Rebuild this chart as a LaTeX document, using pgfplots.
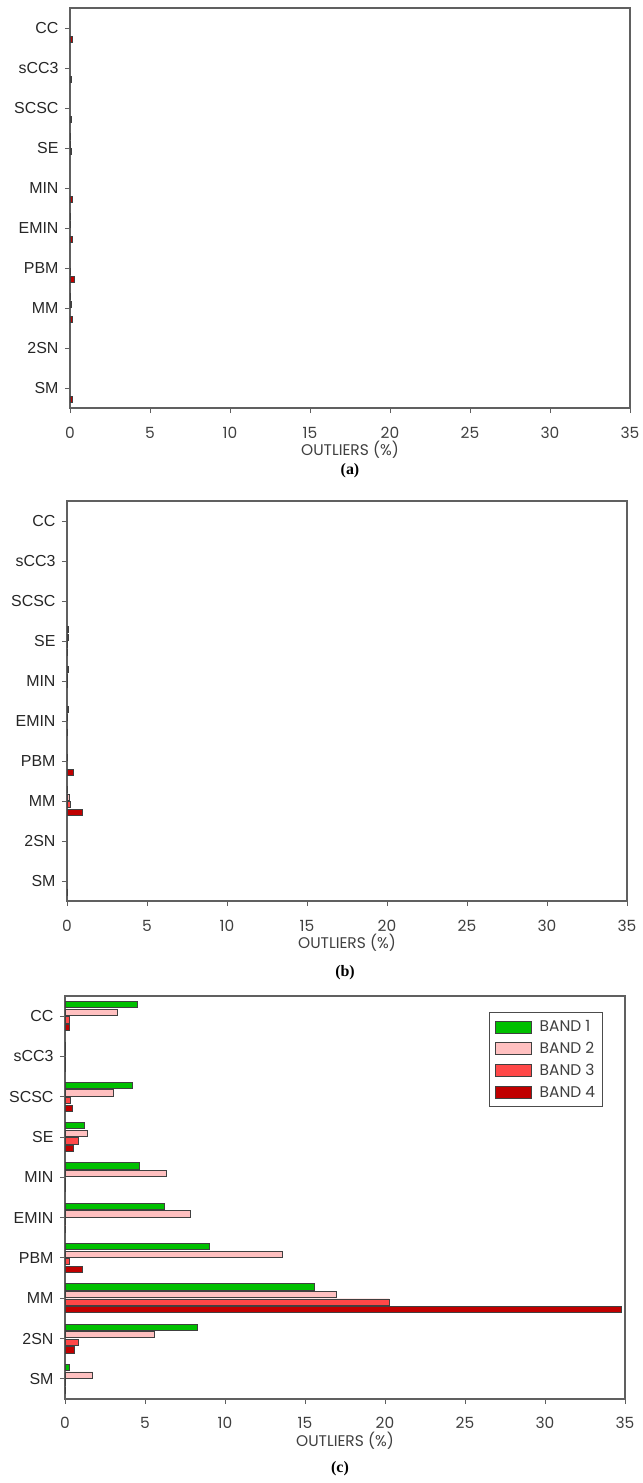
\documentclass[border=0pt]{standalone}
\usepackage{pgfplots}
\pgfplotsset{compat=1.18}
\usepackage{fontspec}
\setmainfont{Liberation Sans}
\newfontfamily\gothic{Poppins}
\newfontfamily\serifb{Liberation Serif}
\definecolor{bandA}{HTML}{00C000}
\definecolor{bandB}{HTML}{FFC0C0}
\definecolor{bandC}{HTML}{FF4848}
\definecolor{bandD}{HTML}{C00000}
\definecolor{axgray}{HTML}{606060}
\pgfplotsset{
  panel/.style={
    scale only axis, width=560bp, height=400bp,
    xmin=0, xmax=35, ymin=-0.5, ymax=9.5,
    xtick={0,5,...,35},
    ytick={0,...,9},
    yticklabels={SM,2SN,MM,PBM,EMIN,MIN,SE,SCSC,sCC3,CC},
    tick align=outside, xtick pos=bottom, ytick pos=left,
    major tick length=5bp,
    axis line style={draw=axgray, line width=1.2pt},
    every tick/.style={draw=axgray, line width=1pt},
    /pgf/number format/assume math mode=true,
    xticklabel style={font=\gothic\fontsize{15.5}{15.5}\selectfont, text=black!75, anchor=center, yshift=-20bp},
    yticklabel style={font=\fontsize{16}{16}\selectfont, text=black!85, anchor=east, xshift=-3bp},
    xlabel={OUTLIERS (\%)},
    xlabel style={font=\gothic\fontsize{15.5}{15.5}\selectfont, text=black!75, at={(axis description cs:0.5,0)}, anchor=center, yshift=-42bp},
    xbar, bar width=6.2bp,
    legend image code/.code={\draw[##1] (0bp,-6bp) rectangle (36bp,6bp);},
  },
  b1/.style={fill=bandA, draw=black!75, line width=0.9pt, bar shift=11.4bp},
  b2/.style={fill=bandB, draw=black!75, line width=0.9pt, bar shift=3.8bp},
  b3/.style={fill=bandC, draw=black!75, line width=0.9pt, bar shift=-3.8bp},
  b4/.style={fill=bandD, draw=black!75, line width=0.9pt, bar shift=-11.4bp},
}
\begin{document}
\begin{tikzpicture}
\path (0,0) rectangle (640bp,-1483bp);
% ---------------- (a)
\begin{axis}[panel, at={(70bp,-8bp)}, anchor=north west]
\addplot[b1] coordinates {(0.05,6) (0.05,4) (0.05,2)};
\addplot[b2] coordinates {(0.05,6) (0.05,4) (0.1,2)};
\addplot[b3] coordinates {(0.1,6) (0.05,3)};
\addplot[b4] coordinates {(0.15,9) (0.1,8) (0.1,7) (0.15,5) (0.15,4) (0.25,3) (0.15,2) (0.15,0)};
\end{axis}
\node[font=\serifb\bfseries\fontsize{16}{16}\selectfont] at (350bp,-471bp) {(a)};
% ---------------- (b)
\begin{axis}[panel, at={(67bp,-501bp)}, anchor=north west]
\addplot[b1] coordinates {(0.1,6) (0.1,5) (0.1,4) (0.05,2)};
\addplot[b2] coordinates {(0.1,6) (0.05,5) (0.05,4) (0.05,3) (0.15,2)};
\addplot[b3] coordinates {(0.05,6) (0.05,5) (0.2,2)};
\addplot[b4] coordinates {(0.05,6) (0.05,4) (0.4,3) (0.95,2) (0.03,0)};
\end{axis}
\node[font=\serifb\bfseries\fontsize{16}{16}\selectfont] at (345bp,-973bp) {(b)};
% ---------------- (c)
\begin{axis}[panel, height=403bp, at={(65bp,-996bp)}, anchor=north west,
  xticklabel style={yshift=1.5bp},
  legend style={at={(0.96,0.96)}, anchor=north east, draw=black!70, line width=1pt,
    font=\gothic\fontsize{15.5}{15.5}\selectfont, text=black!75, row sep=5bp, inner xsep=5bp, inner ysep=6bp,
    /tikz/every odd column/.append style={column sep=6bp}},
  legend cell align=left]
\addplot[b1] coordinates {(4.54,9) (0.03,8) (4.23,7) (1.19,6) (4.63,5) (6.21,4) (9.02,3) (15.6,2) (8.27,1) (0.3,0)};
\addplot[b2] coordinates {(3.25,9) (0.03,8) (3.02,7) (1.42,6) (6.37,5) (7.85,4) (13.6,3) (16.98,2) (5.56,1) (1.73,0)};
\addplot[b3] coordinates {(0.25,9) (0.05,8) (0.37,7) (0.87,6) (0.05,5) (0.05,4) (0.3,3) (20.25,2) (0.83,1) (0.05,0)};
\addplot[b4] coordinates {(0.3,9) (0.05,8) (0.44,7) (0.5,6) (0.05,5) (0.05,4) (1.08,3) (34.75,2) (0.56,1) (0.05,0)};
\legend{BAND 1,BAND 2,BAND 3,BAND 4}
\end{axis}
\node[font=\serifb\bfseries\fontsize{16}{16}\selectfont] at (340bp,-1469bp) {(c)};
\end{tikzpicture}
\end{document}
